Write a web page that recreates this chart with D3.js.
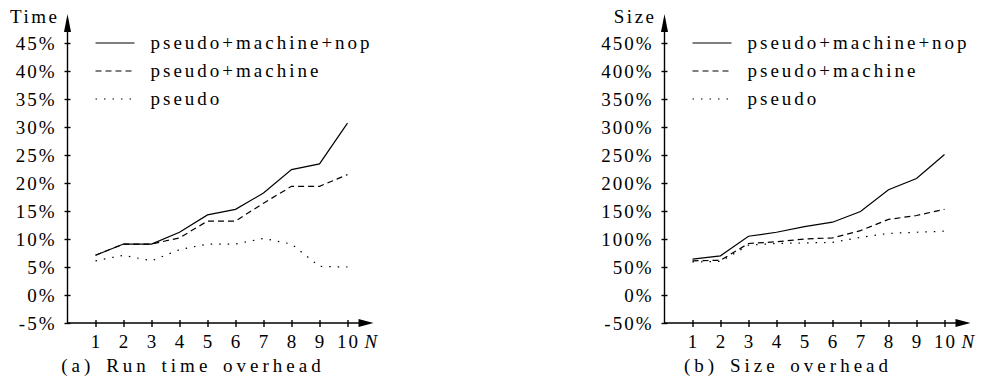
<!DOCTYPE html>
<html lang="en">
<head>
<meta charset="utf-8">
<style>
  body { margin: 0; background: #fff; }
  svg text { font-family: "Liberation Serif", "Times New Roman", serif; font-size: 19px; fill: #000; }
  .tick text { letter-spacing: 2px; }
  .legend { letter-spacing: 3px; }
  .ylabel { letter-spacing: 2.5px; }
  .caption { letter-spacing: 4px; word-spacing: 3px; }
  .axis path, .axis line { stroke: #000; stroke-width: 1.4; }
  .series { fill: none; stroke: #000; stroke-width: 1.2; }
</style>
<script src="https://cdn.jsdelivr.net/npm/d3@7"></script>
</head>
<body>
<svg width="982" height="383"></svg>
<script>
// values
var nValues = [1, 2, 3, 4, 5, 6, 7, 8, 9, 10];
var seriesNames = ["pseudo+machine+nop", "pseudo+machine", "pseudo"];
var dashes = [null, "6,4", "1.5,7"];

var timeTicks = [-5, 0, 5, 10, 15, 20, 25, 30, 35, 40, 45];
var timeNop     = [7.1, 9.1, 9.1, 11.2, 14.3, 15.3, 18.2, 22.4, 23.4, 30.7];
var timeMachine = [7.1, 9.1, 9.1, 10.2, 13.2, 13.2, 16.4, 19.4, 19.4, 21.5];
var timePseudo  = [6.1, 7.1, 6.1, 8.1, 9.1, 9.1, 10.1, 9.1, 5.1, 5.0];

var sizeTicks = [-50, 0, 50, 100, 150, 200, 250, 300, 350, 400, 450];
var sizeNop     = [64, 70, 105, 112, 122, 130, 149, 188, 208, 251];
var sizeMachine = [61, 62, 92, 95, 100, 102, 115, 135, 142, 153];
var sizePseudo  = [59, 60, 89, 92, 93, 94, 103, 110, 112, 114];

var svg = d3.select("svg");

function panel(o) {
  var g = svg.append("g");
  var x = d3.scaleLinear().domain([0, 11]).range([o.x0, o.x0 + 308]);
  var y = d3.scaleLinear().domain([o.ticks[0], o.ticks[o.ticks.length - 1]]).range([323, 43]);

  // y axis
  var ya = g.append("g").attr("class", "axis")
      .attr("transform", "translate(" + x(0) + ",0)")
      .call(d3.axisLeft(y).tickValues(o.ticks).tickFormat(function(d) { return d + "%"; }).tickSize(3));
  ya.select(".domain").remove();
  ya.selectAll(".tick line").attr("x1", -3).attr("x2", 3);
  ya.selectAll(".tick text").attr("x", -11).attr("dy", "0.33em").attr("text-anchor", "end");
  ya.attr("font-family", null).attr("font-size", null);
  g.append("line")
      .attr("x1", x(0)).attr("x2", x(0)).attr("y1", 323).attr("y2", 30)
      .attr("stroke", "#000").attr("stroke-width", 1.4);
  g.append("path").attr("d", "M" + (x(0) - 3.5) + ",32L" + x(0) + ",14L" + (x(0) + 3.5) + ",32Z");

  // x axis
  var xa = g.append("g").attr("class", "axis")
      .attr("transform", "translate(0,323)")
      .call(d3.axisBottom(x).tickValues(nValues).tickSize(3));
  xa.select(".domain").remove();
  xa.selectAll(".tick line").attr("y1", -3).attr("y2", 4);
  xa.selectAll(".tick text").attr("x", 0.5).attr("y", 25).attr("dy", null).attr("text-anchor", "middle");
  xa.attr("font-family", null).attr("font-size", null);
  g.append("line").attr("x1", x(0)).attr("x2", x(11) - 10).attr("y1", 323).attr("y2", 323)
      .attr("stroke", "#000").attr("stroke-width", 1.4);
  g.append("path").attr("d", "M" + (x(11) - 17) + ",319L" + (x(11) - 2) + ",323L" + (x(11) - 17) + ",327Z");
  g.append("text").attr("x", x(11) - 11).attr("y", 348).attr("font-style", "italic").text("N");

  g.append("text").attr("class", "ylabel").attr("x", x(0) - 8).attr("y", 23)
      .attr("text-anchor", "end").text(o.ylabel);

  var line = d3.line().x(function(d, i) { return x(nValues[i]); }).y(function(d) { return y(d); });
  o.series.forEach(function(s, i) {
    g.append("path").attr("class", "series").attr("d", line(s))
        .attr("stroke-dasharray", dashes[i]);
    var ly = y(o.ticks[o.ticks.length - 1 - i]);
    g.append("line").attr("class", "series")
        .attr("x1", x(0) + 28).attr("x2", x(0) + 67).attr("y1", ly).attr("y2", ly)
        .attr("stroke-dasharray", dashes[i]);
    g.append("text").attr("class", "legend").attr("x", x(0) + 83).attr("y", ly)
        .attr("dy", "0.3em").text(seriesNames[i]);
  });

  g.append("text").attr("class", "caption").attr("x", o.capX).attr("y", 372)
      .attr("text-anchor", "middle").text(o.caption);
}

panel({ x0: 67.5, ticks: timeTicks, ylabel: "Time", series: [timeNop, timeMachine, timePseudo],
        caption: "(a) Run time overhead", capX: 193 });
panel({ x0: 664.5, ticks: sizeTicks, ylabel: "Size", series: [sizeNop, sizeMachine, sizePseudo],
        caption: "(b) Size overhead", capX: 788 });
</script>
</body>
</html>
